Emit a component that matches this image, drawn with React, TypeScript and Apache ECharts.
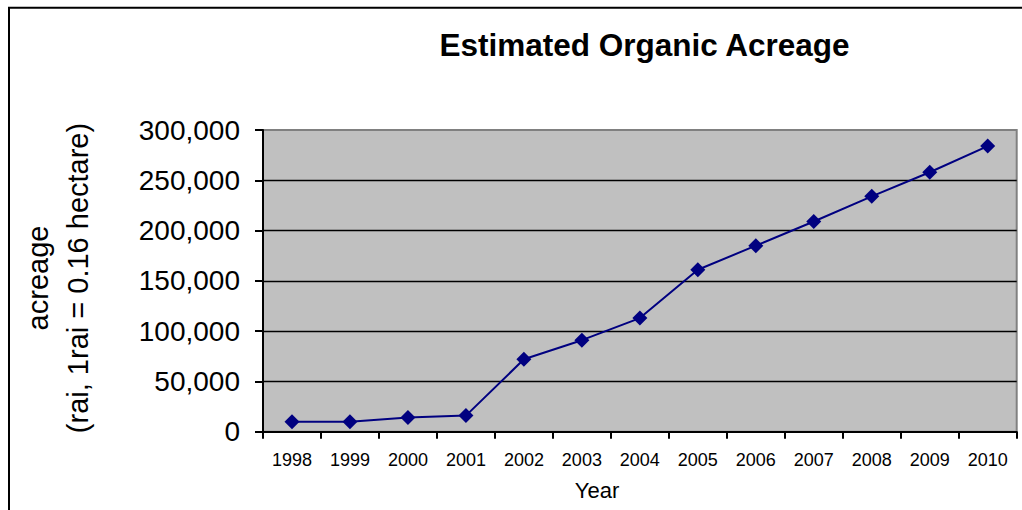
import React, { useEffect, useRef } from "react";
import * as echarts from "echarts";

const years = ["1998", "1999", "2000", "2001", "2002", "2003", "2004", "2005", "2006", "2007", "2008", "2009", "2010"];
const acreage = [10000, 10000, 14000, 16000, 72000, 91000, 113000, 161000, 185000, 209000, 234000, 258000, 284000];
const titleText = "Estimated Organic Acreage";
const yAxisTitle = "acreage\n(rai, 1rai = 0.16 hectare)";
const xAxisTitle = "Year";

const FONT = "'Liberation Sans', Arial, sans-serif";

export default function App() {
  const ref = useRef<HTMLDivElement>(null);
  useEffect(() => {
    if (!ref.current) return;
    const chart = echarts.init(ref.current, null, { renderer: "svg" });
    chart.setOption({
      animation: false,
      backgroundColor: "#ffffff",
      grid: {
        left: 263,
        right: 5.3,
        top: 130,
        bottom: 78.3,
        show: true,
        backgroundColor: "#C0C0C0",
        borderColor: "#808080",
        borderWidth: 2,
      },
      xAxis: {
        type: "category",
        data: years,
        boundaryGap: true,
        axisLine: { show: true, lineStyle: { color: "#000", width: 2 } },
        axisTick: { show: true, interval: 0, length: 7, lineStyle: { color: "#000", width: 2 } },
        axisLabel: { interval: 0, margin: 19, color: "#000", fontFamily: FONT, fontSize: 18 },
        splitLine: { show: false },
      },
      yAxis: {
        type: "value",
        min: 0,
        max: 300000,
        interval: 50000,
        axisLine: { show: true, lineStyle: { color: "#000", width: 2 } },
        axisTick: { show: true, length: 8, lineStyle: { color: "#000", width: 2 } },
        axisLabel: {
          margin: 23,
          color: "#000",
          fontFamily: FONT,
          fontSize: 28,
          formatter: (v: number) => v.toLocaleString("en-US"),
        },
        splitLine: { show: true, showMinLine: false, showMaxLine: false, lineStyle: { color: "#000", width: 1.3 } },
      },
      graphic: [
        {
          type: "rect",
          shape: { x: 9, y: 7.7, width: 1100, height: 600 },
          style: { fill: "none", stroke: "#000", lineWidth: 2 },
          silent: true,
        },
        {
          type: "text",
          x: 644.5,
          y: 44.6,
          style: {
            text: titleText,
            fontFamily: FONT,
            fontSize: 31.5,
            fontWeight: "bold",
            fill: "#000",
            align: "center",
            verticalAlign: "middle",
          },
        },
        {
          type: "text",
          x: 58,
          y: 278,
          rotation: Math.PI / 2,
          style: {
            text: yAxisTitle,
            fontFamily: FONT,
            fontSize: 29,
            lineHeight: 40,
            fill: "#000",
            align: "center",
            verticalAlign: "middle",
          },
        },
        {
          type: "text",
          x: 597,
          y: 490,
          style: {
            text: xAxisTitle,
            fontFamily: FONT,
            fontSize: 22,
            fill: "#000",
            align: "center",
            verticalAlign: "middle",
          },
        },
      ],
      series: [
        {
          type: "line",
          data: acreage,
          symbol: "diamond",
          symbolSize: 15,
          itemStyle: { color: "#000080" },
          lineStyle: { color: "#000080", width: 2 },
        },
      ],
    });
    return () => chart.dispose();
  }, []);
  return <div ref={ref} style={{ position: "absolute", left: 0, top: 0, width: 1022, height: 510 }} />;
}
